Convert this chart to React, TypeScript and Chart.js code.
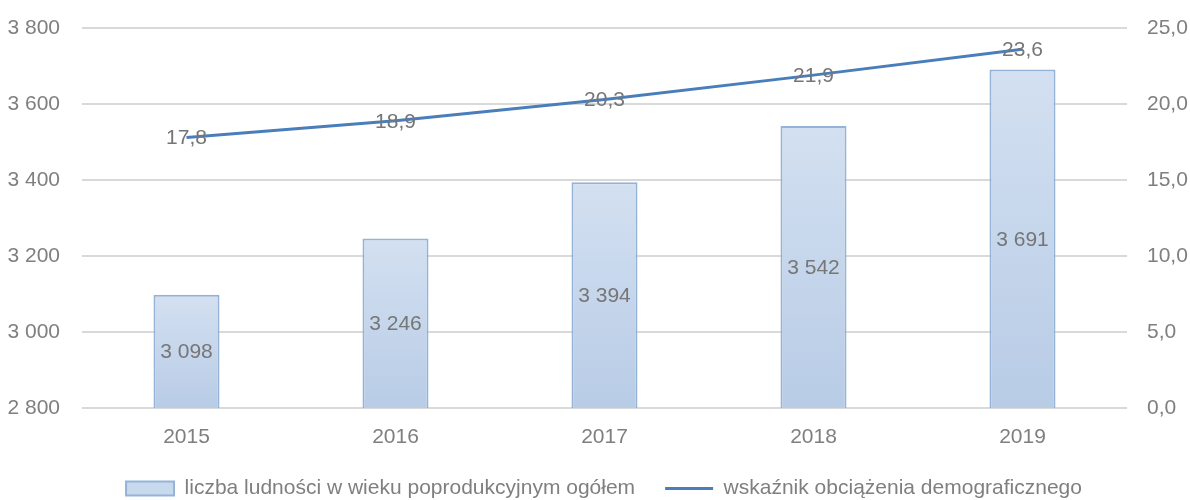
import React, { useEffect, useRef } from "react";
import { Chart, registerables } from "chart.js";

Chart.register(...registerables);

const years = ["2015", "2016", "2017", "2018", "2019"];
const populationValues = [3098, 3246, 3394, 3542, 3691];
const dependencyValues = [17.8, 18.9, 20.3, 21.9, 23.6];
const leftTicks = [2800, 3000, 3200, 3400, 3600, 3800];
const rightTicks = [0, 5, 10, 15, 20, 25];

const barLabel = "liczba ludności w wieku poprodukcyjnym ogółem";
const lineLabel = "wskaźnik obciążenia demograficznego";

const FONT = "'Liberation Sans Narrow', 'Arial Narrow', 'Liberation Sans', Arial, sans-serif";
const FS = 21;
const TEXT = "#7f7f7f";

const fmtThousands = (v: number) =>
  String(Math.round(v)).replace(/\B(?=(\d{3})+(?!\d))/g, " ");
const fmtDecimal = (v: number) => v.toFixed(1).replace(".", ",");

const labelPlugin = {
  id: "valueLabels",
  afterDatasetsDraw(chart: any) {
    const ctx = chart.ctx;
    ctx.save();
    ctx.font = `${FS}px ${FONT}`;
    ctx.fillStyle = "#767676";
    ctx.textAlign = "center";
    ctx.textBaseline = "middle";
    const ys = chart.scales.y;
    const y1 = chart.scales.y1;
    const xs = chart.scales.x;
    populationValues.forEach((v, i) => {
      const x = xs.getPixelForValue(i);
      const top = ys.getPixelForValue(v);
      const bottom = ys.getPixelForValue(ys.min);
      ctx.fillText(fmtThousands(v), x, (top + bottom) / 2 + 1);
    });
    dependencyValues.forEach((v, i) => {
      const x = xs.getPixelForValue(i);
      const y = y1.getPixelForValue(v);
      ctx.fillText(fmtDecimal(v), x, y + 1);
    });
    ctx.restore();
  },
};

// centre the legend under the plot area rather than the whole canvas
const legendShift = {
  id: "legendShift",
  afterLayout(chart: any) {
    if (chart.legend) chart.legend.left = chart.legend.left + 18;
  },
};

export default function App() {
  const ref = useRef<HTMLCanvasElement | null>(null);

  useEffect(() => {
    document.body.style.margin = "0";
    const canvas = ref.current;
    if (!canvas) return;
    const chart = new Chart(canvas, {
      type: "bar",
      data: {
        labels: years,
        datasets: [
          {
            type: "line",
            label: lineLabel,
            data: dependencyValues,
            yAxisID: "y1",
            borderColor: "#4a7ebb",
            backgroundColor: "#4a7ebb",
            borderWidth: 3,
            pointRadius: 0,
            tension: 0,
            order: 0,
          } as any,
          {
            type: "bar",
            label: barLabel,
            data: populationValues,
            yAxisID: "y",
            backgroundColor: (c: any) => {
              const ch = c.chart;
              const ys = ch.scales && ch.scales.y;
              if (!ys || c.parsed == null || c.parsed.y == null) return "#c6d7ec";
              const top = ys.getPixelForValue(c.parsed.y);
              const bottom = ys.getPixelForValue(ys.min);
              if (!isFinite(top) || !isFinite(bottom) || top === bottom) return "#c6d7ec";
              const g = ch.ctx.createLinearGradient(0, top, 0, bottom);
              g.addColorStop(0, "#d3e0f1");
              g.addColorStop(1, "#b8cce6");
              return g;
            },
            borderColor: "#95b3d7",
            borderWidth: 2,
            borderSkipped: false,
            barPercentage: 0.316,
            categoryPercentage: 1,
            order: 1,
          } as any,
        ],
      },
      options: {
        animation: false,
        responsive: false,
        maintainAspectRatio: false,
        layout: { padding: { left: 0, right: 0, top: 28, bottom: -9 } },
        scales: {
          x: {
            grid: { display: false, drawTicks: false },
            border: { display: false },
            ticks: { color: TEXT, font: { family: FONT, size: FS }, padding: 17 },
            afterFit: (axis: any) => {
              axis.height = 40;
              axis.paddingLeft = 0;
              axis.paddingRight = 0;
            },
          },
          y: {
            position: "left",
            min: 2800,
            max: 3800,
            afterBuildTicks: (axis: any) => {
              axis.ticks = leftTicks.map((v) => ({ value: v }));
            },
            afterFit: (axis: any) => {
              axis.width = 82;
              axis.paddingTop = 0;
              axis.paddingBottom = 0;
            },
            grid: { color: "#d9d9d9", lineWidth: 2, drawTicks: false },
            border: { display: false },
            ticks: {
              color: TEXT,
              font: { family: FONT, size: FS },
              padding: 22,
              callback: (v: any) => fmtThousands(Number(v)),
            },
          },
          y1: {
            position: "right",
            min: 0,
            max: 25,
            afterBuildTicks: (axis: any) => {
              axis.ticks = rightTicks.map((v) => ({ value: v }));
            },
            afterFit: (axis: any) => {
              axis.width = 63;
              axis.paddingTop = 0;
              axis.paddingBottom = 0;
            },
            grid: { display: false, drawTicks: false },
            border: { display: false },
            ticks: {
              color: TEXT,
              font: { family: FONT, size: FS },
              padding: 20,
              callback: (v: any) => fmtDecimal(Number(v)),
            },
          },
        },
        plugins: {
          tooltip: { enabled: false },
          legend: {
            position: "bottom",
            labels: {
              color: TEXT,
              font: { family: FONT, size: FS },
              boxWidth: 48,
              boxHeight: 14,
              usePointStyle: true,
              pointStyleWidth: 48,
              padding: 30,
              generateLabels: () => [
                {
                  text: barLabel,
                  fillStyle: "#c9d9ed",
                  strokeStyle: "#95b3d7",
                  lineWidth: 2,
                  pointStyle: "rect",
                  fontColor: TEXT,
                  datasetIndex: 1,
                  hidden: false,
                },
                {
                  text: lineLabel,
                  fillStyle: "#4a7ebb",
                  strokeStyle: "#4a7ebb",
                  lineWidth: 3,
                  pointStyle: "line",
                  fontColor: TEXT,
                  datasetIndex: 0,
                  hidden: false,
                },
              ],
            },
          },
        },
      },
      plugins: [labelPlugin, legendShift],
    });
    return () => chart.destroy();
  }, []);

  return (
    <div style={{ position: "absolute", left: 0, top: 0, width: 1190, height: 500 }}>
      <canvas ref={ref} width={1190} height={500} style={{ display: "block" }} />
    </div>
  );
}
